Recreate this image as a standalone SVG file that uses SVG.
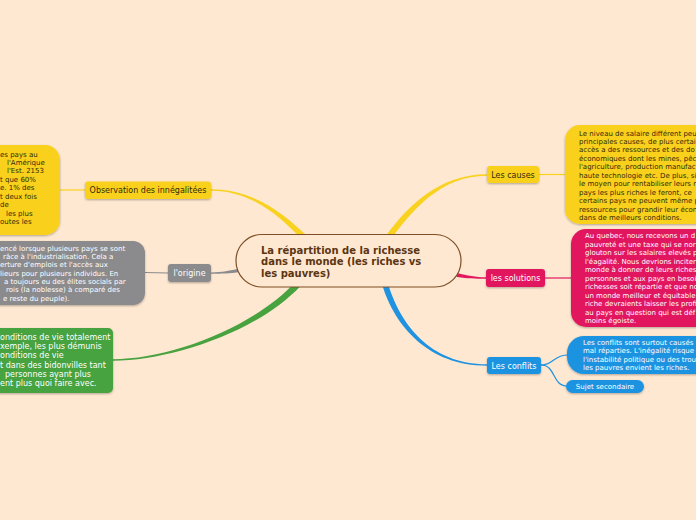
<svg xmlns="http://www.w3.org/2000/svg" width="696" height="520" viewBox="0 0 696 520">
<defs>
<filter id="sh" x="-10%" y="-20%" width="120%" height="150%">
<feDropShadow dx="0" dy="1" stdDeviation="0.8" flood-color="#000" flood-opacity="0.3"/>
</filter>
</defs>
<style>
text{font-family:"DejaVu Sans","Verdana",sans-serif;}
.lbl{font-size:8px;text-anchor:middle;}
.t7{font-size:7px;}
.t8{font-size:8px;}
.dk{fill:#332a08;}
.wh{fill:#ffffff;}
.y{fill:#f9d11f;}
.g{fill:#8b8b8e;}
.gr{fill:#47a23f;}
.p{fill:#e2185e;}
.b{fill:#1f93e1;}
.ln{fill:none;stroke-width:1.2;}
</style>
<rect width="696" height="520" fill="#fee8d1"/>

<g id="connectors">
<path class="y" d="M 211 189.3 C 255 189.3 285.5 216 307 235.8 L 303 240.2 C 282.5 220 255 190.7 211 190.7 Z"/>
<path class="y" d="M 385.6 236.2 C 407.6 206.2 439 174.3 487 174.3 L 487 175.7 C 441 175.7 412.4 209.8 390.4 239.8 Z"/>
<path class="g" d="M 211 272.4 C 222 272.4 230 270.5 240 268.5 L 240 272 C 230 273.5 222 273.8 211 273.8 Z"/>
<path class="gr" d="M 113 359.2 C 170 359.2 253 327.8 295.7 281.8 L 300.3 286.2 C 257 332.2 170 360.8 113 360.8 Z"/>
<path class="p" d="M 486 277.3 C 475 277.3 468 275.5 457 273 L 457 277 C 468 278.7 475 278.7 486 278.7 Z"/>
<path class="b" d="M 387.8 283 C 400 324 430 364.3 487 364.3 L 487 365.7 C 428 365.7 395 326 382.2 285 Z"/>
<path class="ln" stroke="#f9d11f" d="M 85 190 L 60 190"/>
<path class="ln" stroke="#8b8b8e" d="M 168 273 L 145 272.5"/>
<path class="ln" stroke="#f9d11f" d="M 539 174.5 L 565 174.5"/>
<path class="ln" stroke="#e2185e" d="M 545 278 L 571 278"/>
<path class="ln" stroke="#1f93e1" d="M 541 365 C 554 365 553 355 568 355"/>
<path class="ln" stroke="#1f93e1" d="M 541 365 C 556 365 552 386 567 386"/>
</g>

<g id="center">
<rect x="236" y="234.5" width="225" height="52.5" rx="26" fill="#fee8d1" stroke="#7d4e24" stroke-width="1.2"/>
<text x="261" y="253.5" font-size="10" font-weight="bold" fill="#5c3511">La répartition de la richesse</text>
<text x="261" y="265" font-size="10" font-weight="bold" fill="#5c3511">dans le monde (les riches vs</text>
<text x="261" y="276.5" font-size="10" font-weight="bold" fill="#5c3511">les pauvres)</text>
</g>

<g id="observation">
<rect class="y" x="85" y="181.5" width="126" height="17.5" rx="3" filter="url(#sh)"/>
<text class="lbl dk" x="148" y="193.3">Observation des innégalitées</text>
</g>
<g id="observation-text">
<rect class="y" x="-30" y="145" width="90" height="90" rx="15" filter="url(#sh)"/>
<g class="t7 dk">
<text x="0" y="156.5">es pays au</text>
<text x="7" y="165">l'Amérique</text>
<text x="7" y="173.4">l'Est. 2153</text>
<text x="0" y="181.9">t que 60%</text>
<text x="0" y="190.3">e. 1% des</text>
<text x="0" y="198.8">t deux fois</text>
<text x="0" y="207.2">de</text>
<text x="6" y="215.7">les plus</text>
<text x="0" y="224.1">outes les</text>
</g>
</g>

<g id="origine">
<rect class="g" x="168" y="264" width="43" height="18" rx="3" filter="url(#sh)"/>
<text class="lbl wh" x="189.5" y="276">l'origine</text>
</g>
<g id="origine-text">
<rect class="g" x="-30" y="241" width="175" height="64" rx="12" filter="url(#sh)"/>
<g class="t7 wh">
<text x="0" y="250.5">encé lorsque plusieurs pays se sont</text>
<text x="3" y="258.8">râce à l'industrialisation. Cela a</text>
<text x="0" y="267.2">erture d'emplois et l'accès aux</text>
<text x="0" y="275.5">lieurs pour plusieurs individus. En</text>
<text x="4" y="283.8">a toujours eu des élites socials par</text>
<text x="6" y="292.2">rois (la noblesse) à comparé des</text>
<text x="3" y="300.5">e reste du peuple).</text>
</g>
</g>

<g id="green-text">
<rect class="gr" x="-30" y="328" width="143" height="65" rx="5" filter="url(#sh)"/>
<g class="t8 wh">
<text x="0" y="339.5">onditions de vie totalement</text>
<text x="0" y="348.8">xemple, les plus démunis</text>
<text x="0" y="358.2">onditions de vie</text>
<text x="0" y="367.5">t dans des bidonvilles tant</text>
<text x="5" y="376.8">personnes ayant plus</text>
<text x="0" y="386.2">ent plus quoi faire avec.</text>
</g>
</g>

<g id="causes">
<rect class="y" x="487" y="166" width="52" height="17" rx="3" filter="url(#sh)"/>
<text class="lbl dk" x="513" y="177.8">Les causes</text>
</g>
<g id="causes-text">
<rect class="y" x="565" y="125" width="160" height="99" rx="15" filter="url(#sh)"/>
<g class="t7 dk">
<text x="579" y="135.5">Le niveau de salaire différent peu</text>
<text x="579" y="144">principales causes, de plus certai</text>
<text x="579" y="152.4">accès a des ressources et des do</text>
<text x="579" y="160.9">économiques dont les mines, pêc</text>
<text x="579" y="169.3">l'agriculture, production manufac</text>
<text x="579" y="177.8">haute technologie etc. De plus, si</text>
<text x="579" y="186.2">le moyen pour rentabiliser leurs r</text>
<text x="579" y="194.7">pays les plus riches le feront, ce</text>
<text x="579" y="203.1">certains pays ne peuvent même p</text>
<text x="579" y="211.6">ressources pour grandir leur écon</text>
<text x="579" y="220">dans de meilleurs conditions.</text>
</g>
</g>

<g id="solutions">
<rect class="p" x="486" y="269" width="59" height="18" rx="3" filter="url(#sh)"/>
<text class="lbl wh" x="515.5" y="281">les solutions</text>
</g>
<g id="solutions-text">
<rect class="p" x="571" y="229" width="160" height="98" rx="15" filter="url(#sh)"/>
<g class="t7 wh">
<text x="585" y="238.3">Au quebec, nous recevons un d</text>
<text x="585" y="246.8">pauvreté et une taxe qui se nor</text>
<text x="585" y="255.3">glouton sur les salaires elevés p</text>
<text x="585" y="263.8">l'éagalité. Nous devrions inciter</text>
<text x="585" y="272.3">monde à donner de leurs riches</text>
<text x="585" y="280.8">personnes et aux pays en besoi</text>
<text x="585" y="289.3">richesses soit répartie et que no</text>
<text x="585" y="297.8">un monde meilleur et équitable</text>
<text x="585" y="306.3">riche devraients laisser les profi</text>
<text x="585" y="314.8">au pays en question qui est déf</text>
<text x="585" y="323.3">moins égoiste.</text>
</g>
</g>

<g id="conflits">
<rect class="b" x="487" y="357" width="54" height="17" rx="3" filter="url(#sh)"/>
<text class="lbl wh" x="514" y="368.6">Les conflits</text>
</g>
<g id="conflits-text">
<rect class="b" x="567" y="336" width="160" height="38" rx="17" filter="url(#sh)"/>
<g class="t7 wh">
<text x="583" y="345">Les conflits sont surtout causés</text>
<text x="583" y="353.4">mal réparties. L'inégalité risque</text>
<text x="583" y="361.8">l'instabilité politique ou des trou</text>
<text x="583" y="370.2">les pauvres envient les riches.</text>
</g>
</g>

<g id="sujet">
<rect class="b" x="566" y="380" width="78" height="13" rx="6.5" filter="url(#sh)"/>
<text class="t7 wh" x="605" y="389" text-anchor="middle">Sujet secondaire</text>
</g>
</svg>
